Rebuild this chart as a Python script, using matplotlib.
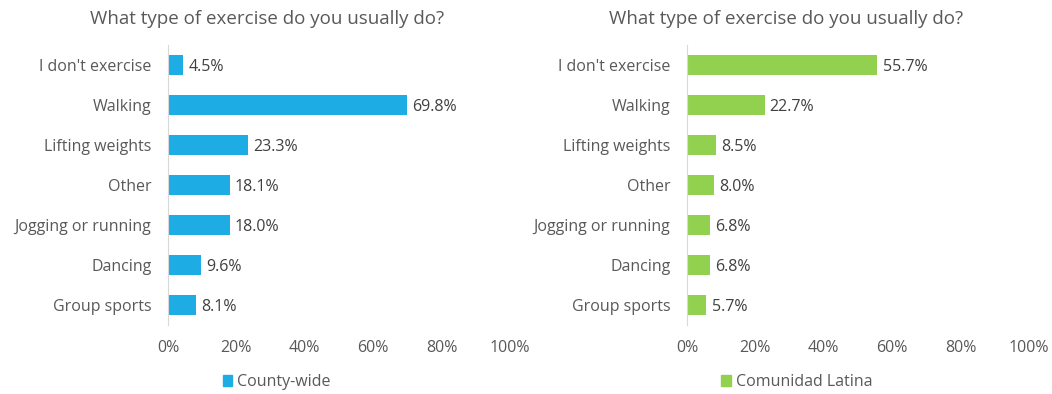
import matplotlib.pyplot as plt
from matplotlib.patches import Patch

plt.rcParams['font.family'] = ['Open Sans', 'DejaVu Sans']

categories = ["I don't exercise", "Walking", "Lifting weights", "Other",
              "Jogging or running", "Dancing", "Group sports"]
county = [4.5, 69.8, 23.3, 18.1, 18.0, 9.6, 8.1]
latina = [55.7, 22.7, 8.5, 8.0, 6.8, 6.8, 5.7]
ticks = [0, 20, 40, 60, 80, 100]
title = "What type of exercise do you usually do?"

fig = plt.figure(figsize=(10.52, 3.94), dpi=100)

panels = [
    (0.1597, county, '#1DACE3', 'County-wide', 0.198),
    (0.6530, latina, '#92D050', 'Comunidad Latina', 0.672),
]

for left, vals, color, name, legx in panels:
    ax = fig.add_axes([left, 0.1751, 0.3251, 0.7107])
    y = list(range(len(categories)))
    ax.barh(y, vals, height=0.5, color=color)
    for yi, v in zip(y, vals):
        ax.text(v + 1.5, yi + 0.04, f"{v:.1f}%", va='center', ha='left',
                fontsize=11.5, color='#404040')
    ax.set_xlim(0, 100)
    ax.set_ylim(len(categories) - 0.5, -0.5)
    ax.set_yticks(y)
    ax.set_yticklabels(categories, fontsize=11.5, color='#595959')
    ax.set_xticks(ticks)
    ax.set_xticklabels([f"{t}%" for t in ticks], fontsize=11.5, color='#595959')
    ax.tick_params(axis='y', length=0, pad=12)
    ax.tick_params(axis='x', length=0, pad=11)
    for s in ['top', 'right', 'bottom']:
        ax.spines[s].set_visible(False)
    ax.spines['left'].set_color('#D9D9D9')
    ax.set_title(title, fontsize=13.5, color='#595959', pad=15, x=0.29)
    fig.legend(handles=[Patch(color=color, label=name)], loc='center left',
               bbox_to_anchor=(legx, 0.03), frameon=False, fontsize=11.5,
               handlelength=0.6, handleheight=0.6, handletextpad=0.3,
               labelcolor='#595959')

fig.savefig('out.png', dpi=100)
